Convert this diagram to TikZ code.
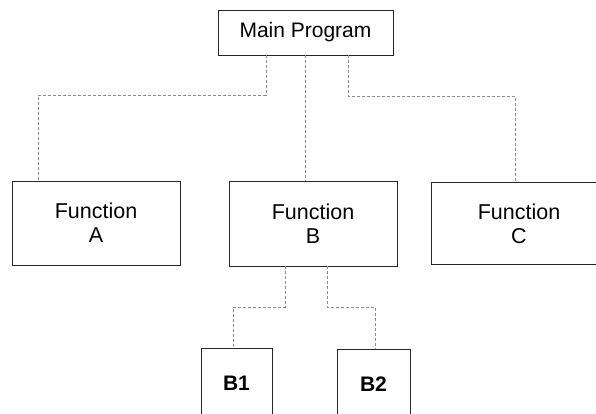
\documentclass[tikz,border=0pt]{standalone}
\usepackage{fontspec}
\setmainfont{Liberation Sans}
\begin{document}
\begin{tikzpicture}[x=1pt,y=-1pt,
  box/.style={draw=black!85, line width=0.9pt, inner sep=0pt, align=center,
    font=\fontsize{21.5}{24}\selectfont},
  conn/.style={draw=black!45, line width=0.7pt, dash pattern=on 3pt off 2pt}]
\useasboundingbox (0,0) rectangle (596,414);
\node[box, minimum width=175pt, minimum height=45pt, font=\fontsize{21}{24}\selectfont] (main) at (305.5,32.5) {Main Program};
\node[box, minimum width=168pt, minimum height=84pt] (fa) at (96,223) {Function\\A};
\node[box, minimum width=168pt, minimum height=85pt] (fb) at (313,223.5) {Function\\B};
\node[box, minimum width=176pt, minimum height=82pt] (fc) at (519,223.5) {Function\\C};
\node[box, minimum width=71pt, minimum height=70pt, font=\fontsize{21}{24}\selectfont\bfseries] (b1) at (236.5,383) {B1};
\node[box, minimum width=73pt, minimum height=70pt, font=\fontsize{21}{24}\selectfont\bfseries] (b2) at (373.5,384) {B2};
\draw[conn] ([xshift=-39.5pt]main.south) -- ++(0,40) -| ([xshift=-58pt]fa.north);
\draw[conn] (main.south) -- (main.south |- fb.north);
\draw[conn] ([xshift=42.5pt]main.south) -- ++(0,41) -| ([xshift=-4pt]fc.north);
\draw[conn] ([xshift=-28pt]fb.south) -- ++(0,41) -| ([xshift=-3.5pt]b1.north);
\draw[conn] ([xshift=14pt]fb.south) -- ++(0,41) -| ([xshift=1.5pt]b2.north);
\end{tikzpicture}
\end{document}
